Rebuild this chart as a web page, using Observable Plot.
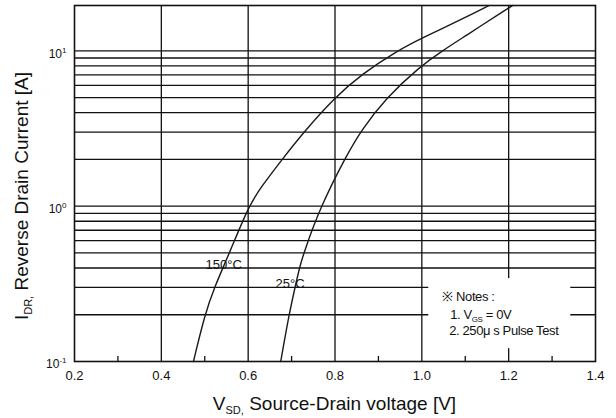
<!DOCTYPE html>
<html><head><meta charset="utf-8">
<script src="https://cdn.jsdelivr.net/npm/d3@7"></script>
<script src="https://cdn.jsdelivr.net/npm/@observablehq/plot@0.6"></script>
<style>body{margin:0;background:#fff} #chart svg{display:block}</style>
</head><body><div id="chart"></div>
<script>
// Data
const v150 = [0.474, 0.500, 0.522, 0.557, 0.601, 0.629, 0.678, 0.728, 0.798, 0.862, 0.943, 1.000, 1.097, 1.155];
const i150 = [0.1, 0.2, 0.3, 0.5, 1.0, 1.32, 2.0, 3.0, 4.97, 7.1, 10, 12.1, 16.2, 19.6];
const v25 = [0.675, 0.694, 0.708, 0.718, 0.728, 0.767, 0.826, 0.859, 0.917, 0.997, 1.047, 1.097, 1.197, 1.209];
const i25 = [0.1, 0.2, 0.3, 0.4, 0.5, 1.0, 2.11, 3.04, 4.97, 7.99, 10, 12.3, 18.7, 19.6];
const seriesNames = ["150°C", "25°C"];
const xTicks = [0.2, 0.4, 0.6, 0.8, 1.0, 1.2, 1.4];
const xMinorTicks = [0.3, 0.5, 0.7, 0.9, 1.1, 1.3];
const xGrid = [0.4, 0.6, 0.8, 1.0, 1.2];
const yTicks = [0.1, 1, 10];
const yGrid = [0.2, 0.3, 0.4, 0.5, 0.6, 0.7, 0.8, 0.9, 1, 2, 3, 4, 5, 6, 7, 8, 9, 10];
const curveLabels = [{v: 0.502, i: 0.422, text: "150°C"}, {v: 0.663, i: 0.314, text: "25°C"}];
const notesBox = [{v1: 1.016, v2: 1.343, i1: 0.121, i2: 0.342}];
const xLabel = ["V", "SD,", " Source-Drain voltage [V]"];
const yLabel = ["I", "DR,", " Reverse Drain Current [A]"];
const notesTitle = "※ Notes :";
const note1 = ["1. V", "GS", " = 0V"];
const note2 = "2. 250μ s Pulse Test";

const rows = [
  ...v150.map((v, k) => ({v, i: i150[k], t: seriesNames[0]})),
  ...v25.map((v, k) => ({v, i: i25[k], t: seriesNames[1]}))
];
const ink = "#111";

const plot = Plot.plot({
  width: 616, height: 418,
  marginLeft: 74, marginRight: 21, marginTop: 5, marginBottom: 57,
  style: {fontFamily: "'Liberation Sans', Arial, sans-serif", fontSize: "13px", color: ink, background: "#fff"},
  x: {domain: [0.2, 1.4]},
  y: {type: "log", domain: [0.1, 19.6]},
  marks: [
    Plot.ruleY(yGrid, {stroke: ink, strokeWidth: 1.3}),
    Plot.ruleX(xGrid, {stroke: ink, strokeWidth: 1.3}),
    Plot.rect(notesBox, {x1: "v1", x2: "v2", y1: "i1", y2: "i2", fill: "#fff"}),
    Plot.line(rows, {x: "v", y: "i", z: "t", curve: "basis", stroke: "#1a1a1a", strokeWidth: 1.4}),
    Plot.frame({stroke: ink, strokeWidth: 1.6}),
    Plot.axisX(xMinorTicks, {tickSize: -5, tickFormat: () => "", label: null, stroke: ink, strokeWidth: 1.3}),
    Plot.axisX(xTicks, {tickSize: 0, tickPadding: 9, tickFormat: d => d.toFixed(1), label: null, fontSize: 13}),
    Plot.axisY(yTicks, {tickSize: 0, tickPadding: 8, tickFormat: () => "10", label: null, fontSize: 12, dy: 3}),
    Plot.text(curveLabels, {x: "v", y: "i", text: "text", textAnchor: "start", lineAnchor: "middle", fontSize: 13, fill: ink, letterSpacing: "-0.4px"})
  ]
});
document.getElementById("chart").appendChild(plot);

const svg = d3.select(plot);
// superscript exponents on y tick labels
svg.selectAll('g[aria-label="y-axis tick label"] text').each(function(_, k) {
  d3.select(this).append("tspan").attr("dy", "-5").attr("font-size", "8px").text(String(Math.round(Math.log10(yTicks[k]))));
});

const xs = plot.scale("x"), ys = plot.scale("y");
function subText(g, parts, x, y, size, subSize, anchor, rotate) {
  const t = g.append("text").attr("font-size", size + "px").attr("fill", ink).attr("text-anchor", anchor)
    .attr("font-family", "'Liberation Sans', Arial, sans-serif");
  if (rotate) t.attr("transform", `translate(${x},${y}) rotate(-90)`); else t.attr("x", x).attr("y", y);
  t.append("tspan").text(parts[0]);
  t.append("tspan").attr("font-size", subSize + "px").attr("dy", subSize * 0.35).text(parts[1]);
  t.append("tspan").attr("dy", -subSize * 0.35).text(parts[2]);
  return t;
}
const cx = (xs.apply(0.2) + xs.apply(1.4)) / 2;
subText(svg, xLabel, cx, 410, 19, 11, "middle", false);
subText(svg, yLabel, 28, 196, 19, 11, "middle", true);

// notes
const nx = xs.apply(notesBox[0].v1), ny = ys.apply(notesBox[0].i2);
const ng = svg.append("g").attr("font-family", "'Liberation Sans', Arial, sans-serif").attr("fill", ink)
  .attr("font-size", "13px").attr("letter-spacing", "-0.4px").attr("text-anchor", "start");
ng.append("text").attr("x", nx + 14).attr("y", ny + 23).text(notesTitle);
const n1 = ng.append("text").attr("x", nx + 22).attr("y", ny + 41);
n1.append("tspan").text(note1[0]);
n1.append("tspan").attr("font-size", "8px").attr("dy", 3).text(note1[1]);
n1.append("tspan").attr("dy", -3).text(note1[2]);
ng.append("text").attr("x", nx + 21).attr("y", ny + 57).text(note2);
</script>
</body></html>
